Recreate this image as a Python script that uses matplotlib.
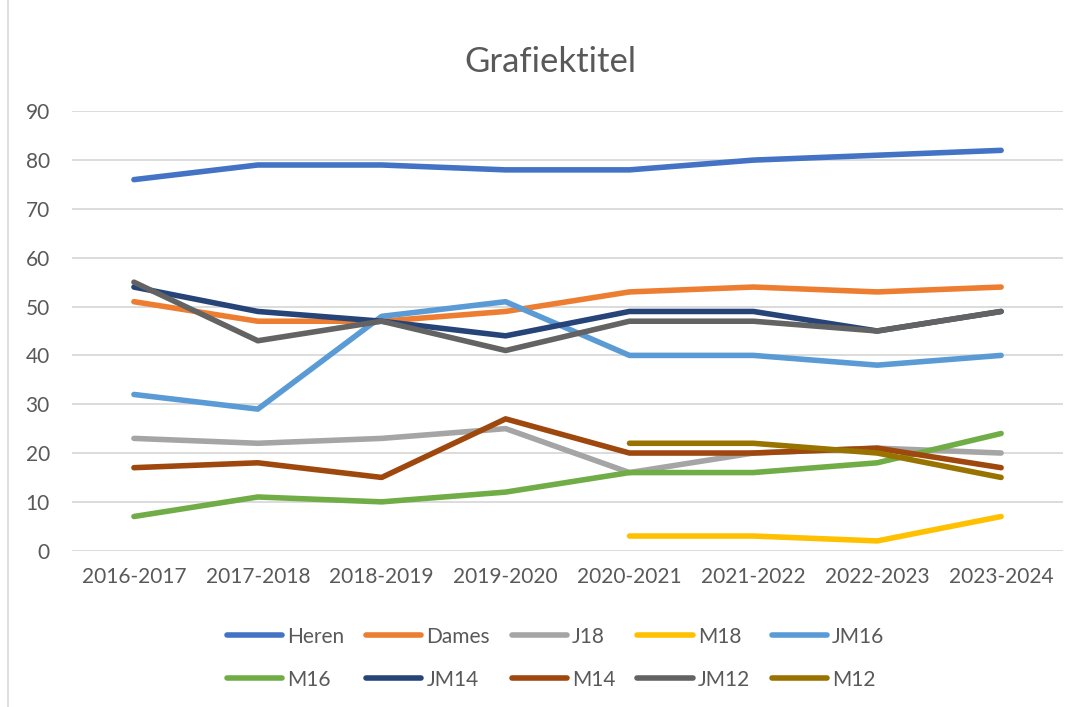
import numpy as np
import matplotlib.pyplot as plt
from matplotlib.lines import Line2D

# --- Données ---
seasons = ["2016-2017", "2017-2018", "2018-2019", "2019-2020",
           "2020-2021", "2021-2022", "2022-2023", "2023-2024"]

heren = [76, 79, 79, 78, 78, 80, 81, 82]
dames = [51, 47, 47, 49, 53, 54, 53, 54]
j18 = [23, 22, 23, 25, 16, 20, 21, 20]
m18 = [np.nan, np.nan, np.nan, np.nan, 3, 3, 2, 7]
jm16 = [32, 29, 48, 51, 40, 40, 38, 40]
m16 = [7, 11, 10, 12, 16, 16, 18, 24]
jm14 = [54, 49, 47, 44, 49, 49, 45, 49]
m14 = [17, 18, 15, 27, 20, 20, 21, 17]
jm12 = [55, 43, 47, 41, 47, 47, 45, 49]
m12 = [np.nan, np.nan, np.nan, np.nan, 22, 22, 20, 15]

names = ["Heren", "Dames", "J18", "M18", "JM16", "M16", "JM14", "M14", "JM12", "M12"]
series = [heren, dames, j18, m18, jm16, m16, jm14, m14, jm12, m12]
colors = ["#4472C4", "#ED7D31", "#A5A5A5", "#FFC000", "#5B9BD5",
          "#70AD47", "#264478", "#9E480E", "#636363", "#997300"]

TXT = "#595959"
plt.rcParams['font.family'] = ['Lato', 'DejaVu Sans']

fig = plt.figure(figsize=(10.81, 7.07), dpi=100)
ax = fig.add_axes([0.0666, 0.2211, 0.9168, 0.6215])

x = np.arange(len(seasons))
handles = []
for name, vals, col in zip(names, series, colors):
    h, = ax.plot(x, vals, color=col, lw=4, solid_capstyle='round',
                 solid_joinstyle='round', label=name)
    handles.append(h)

ax.set_xlim(-0.5, len(seasons) - 0.5)
ax.set_ylim(0, 90)
ax.set_yticks(range(0, 91, 10))
ax.set_xticks(x)
ax.set_xticklabels(seasons)
ax.grid(axis='y', color="#D9D9D9", lw=1.3)
ax.set_axisbelow(True)
for s in ax.spines.values():
    s.set_visible(False)
ax.tick_params(axis='both', length=0, labelsize=15, colors=TXT)
ax.tick_params(axis='y', pad=16)
ax.tick_params(axis='x', pad=12)

fig.text(0.509, 0.912, "Grafiektitel", ha='center', va='center',
         fontsize=25, color=TXT)

# legende : 2 rangées de 5, remplissage par ligne
order = [0, 5, 1, 6, 2, 7, 3, 8, 4, 9]
leg = fig.legend([handles[i] for i in order], [names[i] for i in order],
                 ncol=5, loc='center', bbox_to_anchor=(0.514, 0.069),
                 frameon=False, fontsize=15, handlelength=2.65,
                 handletextpad=0.24, columnspacing=1.05, labelspacing=1.1,
                 labelcolor=TXT)

# bordure grise à gauche
fig.add_artist(Line2D([8 / 1081, 8 / 1081], [0, 1], color="#D9D9D9", lw=1.2))

fig.savefig("out.png", dpi=100)
